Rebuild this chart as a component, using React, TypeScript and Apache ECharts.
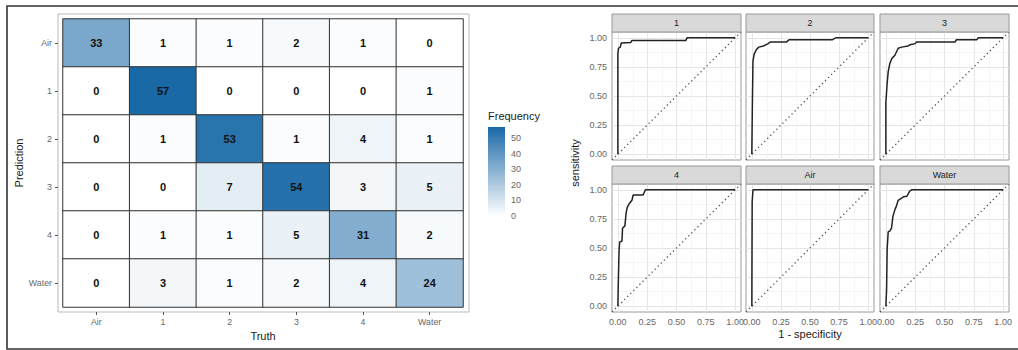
import React, { useEffect, useRef } from "react";
import * as echarts from "echarts";

const TRUTH = ["Air", "1", "2", "3", "4", "Water"];
const PREDICTION = ["Air", "1", "2", "3", "4", "Water"];
// rows = prediction, cols = truth
const COUNTS = [
  [33, 1, 1, 2, 1, 0],
  [0, 57, 0, 0, 0, 1],
  [0, 1, 53, 1, 4, 1],
  [0, 0, 7, 54, 3, 5],
  [0, 1, 1, 5, 31, 2],
  [0, 3, 1, 2, 4, 24],
];
const FREQ_TICKS = [0, 10, 20, 30, 40, 50];

const ROC_CLASSES = ["1", "2", "3", "4", "Air", "Water"];
const ROC_1 = [[0, 0], [0, 0.86], [0.005, 0.91], [0.02, 0.92], [0.03, 0.955], [0.11, 0.96], [0.12, 0.978], [0.58, 0.978], [0.59, 1], [1, 1]];
const ROC_2 = [[0, 0], [0.005, 0.45], [0.01, 0.8], [0.02, 0.86], [0.04, 0.9], [0.06, 0.92], [0.1, 0.93], [0.14, 0.95], [0.16, 0.965], [0.3, 0.965], [0.32, 0.983], [0.69, 0.983], [0.72, 1], [1, 1]];
const ROC_3 = [[0, 0], [0, 0.44], [0.011, 0.61], [0.02, 0.71], [0.034, 0.78], [0.05, 0.82], [0.077, 0.85], [0.105, 0.91], [0.134, 0.92], [0.19, 0.93], [0.205, 0.94], [0.25, 0.95], [0.26, 0.963], [0.59, 0.963], [0.6, 0.983], [0.775, 0.983], [0.79, 1], [1, 1]];
const ROC_4 = [[0, 0], [0.005, 0.26], [0.01, 0.47], [0.015, 0.55], [0.035, 0.56], [0.04, 0.67], [0.06, 0.69], [0.07, 0.8], [0.08, 0.85], [0.1, 0.885], [0.12, 0.91], [0.13, 0.955], [0.215, 0.955], [0.235, 1], [1, 1]];
const ROC_AIR = [[0, 0], [0.003, 0.9], [0.01, 1], [1, 1]];
const ROC_WATER = [[0, 0], [0.006, 0.14], [0.011, 0.49], [0.02, 0.64], [0.034, 0.645], [0.048, 0.67], [0.06, 0.77], [0.077, 0.83], [0.09, 0.86], [0.105, 0.91], [0.15, 0.94], [0.18, 0.945], [0.19, 0.965], [0.205, 0.99], [0.22, 1], [1, 1]];
const ROC_CURVES = [ROC_1, ROC_2, ROC_3, ROC_4, ROC_AIR, ROC_WATER];
const ROC_TICKS = [0, 0.25, 0.5, 0.75, 1];
const ROC_MINOR = [0.125, 0.375, 0.625, 0.875];
const ROC_MIN = -0.05;
const ROC_MAX = 1.05;

const FONT = "Liberation Sans, Arial, sans-serif";
const HIGH = "#1a69a7";

export default function App() {
  const ref = useRef<HTMLDivElement>(null);
  useEffect(() => {
    if (!ref.current) return;
    const chart = echarts.init(ref.current, null, { renderer: "svg" });
    const maxCount = Math.max(...COUNTS.flat());

    const heatData: number[][] = [];
    COUNTS.forEach((row, r) => row.forEach((v, c) => heatData.push([c, r, v])));

    const COL_LEFT = [612, 746, 880];
    const COL_W = [129, 128, 129];
    const ROW_TOP = [32, 184];
    const ROW_H = 128;
    const STRIP_H = 18;

    const grids: any[] = [
      { left: 63, top: 19, width: 400, height: 288, show: false },
      { left: 488, top: 127, width: 17, height: 89, show: false },
    ];
    const xAxes: any[] = [
      {
        type: "category", gridIndex: 0, data: TRUTH, offset: 5,
        axisLine: { show: false },
        axisTick: { show: true, alignWithLabel: true, length: 3, lineStyle: { color: "#555" } },
        axisLabel: { fontSize: 8.8, color: "#666", fontFamily: FONT, margin: 5 },
        name: "Truth", nameLocation: "middle", nameGap: 16,
        nameTextStyle: { fontSize: 11, color: "#1a1a1a", fontFamily: FONT },
        splitLine: { show: false },
      },
      { type: "category", gridIndex: 1, data: ["f"], show: false },
    ];
    const yAxes: any[] = [
      {
        type: "category", gridIndex: 0, data: PREDICTION, inverse: true, offset: 5,
        axisLine: { show: false },
        axisTick: { show: true, alignWithLabel: true, length: 3, lineStyle: { color: "#555" } },
        axisLabel: { fontSize: 8.8, color: "#666", fontFamily: FONT, margin: 6 },
        name: "Prediction", nameLocation: "middle", nameGap: 30,
        nameTextStyle: { fontSize: 11, color: "#1a1a1a", fontFamily: FONT },
        splitLine: { show: false },
      },
      {
        type: "value", gridIndex: 1, position: "right", min: 0, max: maxCount,
        axisLine: { show: false },
        axisTick: { show: true, inside: true, length: 3, customValues: FREQ_TICKS, lineStyle: { color: "#fff", width: 1 } },
        axisLabel: { show: true, customValues: FREQ_TICKS, fontSize: 9, color: "#666", fontFamily: FONT, margin: 6 },
        splitLine: { show: false },
      },
      {
        type: "value", gridIndex: 1, position: "left", min: 0, max: maxCount,
        axisLine: { show: false },
        axisTick: { show: true, inside: true, length: 3, customValues: FREQ_TICKS, lineStyle: { color: "#fff", width: 1 } },
        axisLabel: { show: false },
        splitLine: { show: false },
      },
    ];
    const series: any[] = [
      {
        type: "heatmap", xAxisIndex: 0, yAxisIndex: 0, data: heatData,
        itemStyle: { borderColor: "#333", borderWidth: 1 },
        label: {
          show: true, formatter: (p: any) => String(p.value[2]),
          fontSize: 11, fontWeight: "bold", color: "#111", fontFamily: FONT,
        },
        emphasis: { disabled: true },
      },
      {
        type: "bar", xAxisIndex: 1, yAxisIndex: 1, data: [maxCount], barWidth: "100%",
        itemStyle: {
          color: new echarts.graphic.LinearGradient(0, 0, 0, 1, [
            { offset: 0, color: HIGH },
            { offset: 1, color: "#ffffff" },
          ]),
        },
        z: 1,
      },
    ];

    const graphic: any[] = [
      {
        type: "rect", z: -10, shape: { x: 7, y: 6, width: 1020, height: 343 },
        style: { fill: "#fff", stroke: "#333", lineWidth: 1.6 },
      },
      {
        type: "rect", z: -5, shape: { x: 58, y: 14, width: 411, height: 298 },
        style: { fill: "#fff", stroke: "#bbb", lineWidth: 1 },
      },
      {
        type: "text", x: 488, y: 116,
        style: { text: "Frequency", fontSize: 11, fill: "#1a1a1a", fontFamily: FONT, align: "left", verticalAlign: "middle" },
      },
      {
        type: "text", x: 575, y: 163, rotation: Math.PI / 2,
        style: { text: "sensitivity", fontSize: 11, fill: "#1a1a1a", fontFamily: FONT, align: "center", verticalAlign: "middle" },
      },
    ];

    ROC_CLASSES.forEach((cls, i) => {
      const col = i % 3;
      const row = Math.floor(i / 3);
      const gi = grids.length;
      const left = COL_LEFT[col];
      const top = ROW_TOP[row];
      grids.push({
        left, top, width: COL_W[col], height: ROW_H, show: true,
        backgroundColor: "#fff", borderColor: "#999", borderWidth: 1,
      });
      const showX = row === 1;
      const showY = col === 0;
      const xi = xAxes.length;
      xAxes.push({
        type: "value", gridIndex: gi, min: ROC_MIN, max: ROC_MAX,
        axisLine: { show: false },
        axisTick: { show: showX, customValues: ROC_TICKS, length: 3, lineStyle: { color: "#555" } },
        axisLabel: {
          show: showX, customValues: ROC_TICKS, formatter: (v: number) => v.toFixed(2),
          fontSize: 9, color: "#666", fontFamily: FONT, margin: 5,
        },
        splitLine: { show: false },
        ...(showX && col === 1
          ? { name: "1 - specificity", nameLocation: "middle", nameGap: 16, nameTextStyle: { fontSize: 11, color: "#1a1a1a", fontFamily: FONT } }
          : {}),
      });
      const yi = yAxes.length;
      yAxes.push({
        type: "value", gridIndex: gi, min: ROC_MIN, max: ROC_MAX,
        axisLine: { show: false },
        axisTick: { show: showY, customValues: ROC_TICKS, length: 3, lineStyle: { color: "#555" } },
        axisLabel: {
          show: showY, customValues: ROC_TICKS, formatter: (v: number) => v.toFixed(2),
          fontSize: 9, color: "#666", fontFamily: FONT, margin: 5,
        },
        splitLine: { show: false },
      });
      const major = { color: "#e6e6e6", width: 1, type: "solid" };
      const minor = { color: "#f0f0f0", width: 0.6, type: "solid" };
      series.push({
        type: "line", xAxisIndex: xi, yAxisIndex: yi,
        data: [[ROC_MIN, ROC_MIN], [ROC_MAX, ROC_MAX]],
        symbol: "none", z: 2, silent: true,
        lineStyle: { color: "#555", width: 1.3, type: [1.3, 3] },
        markLine: {
          silent: true, symbol: ["none", "none"], z: 1, animation: false,
          label: { show: false },
          emphasis: { disabled: true },
          data: [
            ...ROC_MINOR.map((v) => ({ xAxis: v, lineStyle: minor })),
            ...ROC_MINOR.map((v) => ({ yAxis: v, lineStyle: minor })),
            ...ROC_TICKS.map((v) => ({ xAxis: v, lineStyle: major })),
            ...ROC_TICKS.map((v) => ({ yAxis: v, lineStyle: major })),
          ],
        },
      });
      series.push({
        type: "line", xAxisIndex: xi, yAxisIndex: yi, data: ROC_CURVES[i],
        symbol: "none", z: 3, silent: true,
        lineStyle: { color: "#222", width: 1.5 },
      });
      graphic.push({
        type: "rect", z: 5, shape: { x: left, y: top - STRIP_H, width: COL_W[col], height: STRIP_H },
        style: { fill: "#d9d9d9", stroke: "#999", lineWidth: 1 },
      });
      graphic.push({
        type: "text", z: 6, x: left + COL_W[col] / 2, y: top - STRIP_H / 2,
        style: { text: cls, fontSize: 9, fill: "#1a1a1a", fontFamily: FONT, align: "center", verticalAlign: "middle" },
      });
    });

    chart.setOption({
      animation: false,
      backgroundColor: "#fff",
      textStyle: { fontFamily: FONT },
      grid: grids,
      xAxis: xAxes,
      yAxis: yAxes,
      visualMap: {
        type: "continuous", show: false, seriesIndex: 0, min: 0, max: maxCount,
        inRange: { color: ["#ffffff", HIGH] },
      },
      graphic,
      series,
    });
    return () => chart.dispose();
  }, []);
  return <div ref={ref} style={{ position: "fixed", left: 0, top: 0, width: 1018, height: 350 }} />;
}
